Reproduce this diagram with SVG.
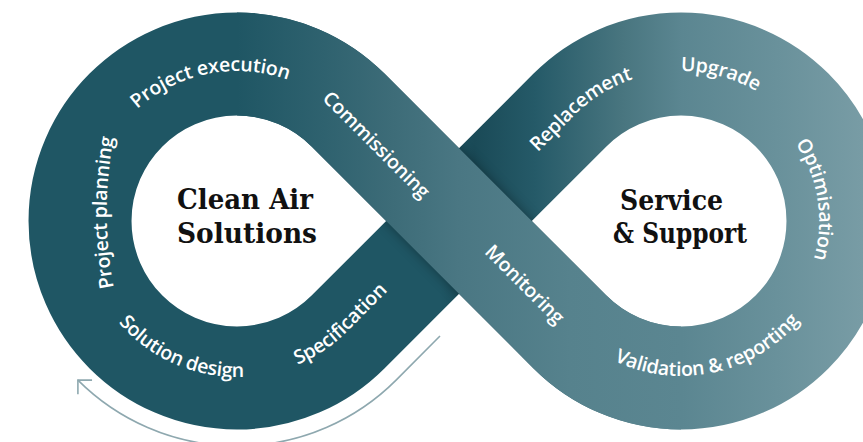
<svg xmlns="http://www.w3.org/2000/svg" width="863" height="442" viewBox="0 0 863 442">
<defs>
<style>
.lbl{font-family:"Open Sans","Noto Sans","DejaVu Sans",sans-serif;font-size:19.5px;font-weight:600;fill:#ffffff;letter-spacing:-0.2px;}
.ttl{font-family:"DejaVu Serif","Liberation Serif",serif;font-size:27px;font-weight:bold;fill:#111111;}
.arrow{fill:none;stroke:#8ea8af;stroke-width:1.6;}
</style>
<linearGradient id="gBase" gradientUnits="userSpaceOnUse" x1="0" y1="0" x2="863" y2="0">
<stop offset="0" stop-color="#1f5664"/>
<stop offset="0.51" stop-color="#1f5664"/>
<stop offset="0.55" stop-color="#1a4a57"/>
<stop offset="0.62" stop-color="#255a68"/>
<stop offset="0.72" stop-color="#48757f"/>
<stop offset="0.79" stop-color="#5b8691"/>
<stop offset="0.9" stop-color="#69919b"/>
<stop offset="1" stop-color="#789ca5"/>
</linearGradient>
<linearGradient id="gOver" gradientUnits="userSpaceOnUse" x1="237" y1="0" x2="681" y2="0">
<stop offset="0" stop-color="#1f5664"/>
<stop offset="0.2" stop-color="#2f626f"/>
<stop offset="0.35" stop-color="#3d6c78"/>
<stop offset="0.5" stop-color="#4a7783"/>
<stop offset="0.75" stop-color="#56828d"/>
<stop offset="1" stop-color="#5b8691"/>
</linearGradient>
<filter id="blur" filterUnits="userSpaceOnUse" x="0" y="0" width="863" height="442"><feGaussianBlur stdDeviation="6"/></filter>
<path id="loop" d="M348,110 L570,332 A157,157 0 1 0 570,110 L348,332 A157,157 0 1 1 348,110 Z"/>
<mask id="bandMask" maskUnits="userSpaceOnUse" x="0" y="0" width="863" height="442">
<use href="#loop" fill="none" stroke="#ffffff" stroke-width="103"/>
</mask>
<marker id="chev" markerUnits="userSpaceOnUse" markerWidth="30" markerHeight="30" viewBox="-15 -15 30 30" refX="0" refY="0" orient="auto" overflow="visible">
<path d="M-10,-10 L0,0 L-10,10" fill="none" stroke="#8ea8af" stroke-width="1.6"/>
</marker>
<path id="p1" d="M116.5,300 A400,400 0 0 1 116.5,124"/>
<path id="p2" d="M96.05,169.7 A150,150 0 0 1 351.9,124.58"/>
<path id="p3" d="M81.6,234.6 A156,156 0 0 0 347.3,331.3 L447.3,231.3"/>
<path id="p4" d="M272.2,49.8 L532.2,309.8"/>
<path id="p5" d="M276.5,45.5 L616.5,385.5"/>
<path id="p6" d="M468.9,221 L574.93,114.93 A150,150 0 0 1 795.9,124.6"/>
<path id="p7" d="M731.4,92.3 A138,138 0 0 1 769.7,326.7"/>
<path id="p8" d="M546.8,298.5 A155,155 0 0 0 826.65,274"/>
</defs>
<rect width="863" height="442" fill="#ffffff"/>
<g id="band">
<use href="#loop" fill="none" stroke="url(#gBase)" stroke-width="103"/>
<g mask="url(#bandMask)">
<path d="M348,110 L570,332" fill="none" stroke="#000000" stroke-opacity="0.35" stroke-width="103" filter="url(#blur)"/>
</g>
<path d="M237,64 A157,157 0 0 1 348,110 L570,332 A157,157 0 0 0 681,378" fill="none" stroke="url(#gOver)" stroke-width="103"/>
</g>
<g id="connectors">
<path class="arrow" d="M440,336 L396.1,380.1 A225,225 0 0 1 77.9,380.1" marker-end="url(#chev)"/>
</g>
<g id="clean-air-solutions">
<text class="ttl" x="245" y="209" text-anchor="middle" textLength="136" lengthAdjust="spacingAndGlyphs">Clean Air</text>
<text class="ttl" x="247" y="243" text-anchor="middle" textLength="140" lengthAdjust="spacingAndGlyphs">Solutions</text>
</g>
<g id="service-support">
<text class="ttl" x="671.5" y="210" text-anchor="middle" textLength="103" lengthAdjust="spacingAndGlyphs">Service</text>
<text class="ttl" x="680" y="243" text-anchor="middle" textLength="134" lengthAdjust="spacingAndGlyphs">&amp; Support</text>
</g>
<g id="project-planning"><text class="lbl"><textPath href="#p1" startOffset="88" text-anchor="middle">Project planning</textPath></text></g>
<g id="project-execution"><text class="lbl"><textPath href="#p2" startOffset="154.5" text-anchor="middle">Project execution</textPath></text></g>
<g id="commissioning"><text class="lbl"><textPath href="#p4" startOffset="140.7" text-anchor="middle">Commissioning</textPath></text></g>
<g id="monitoring"><text class="lbl"><textPath href="#p5" startOffset="344.4" text-anchor="middle">Monitoring</textPath></text></g>
<g id="solution-design"><text class="lbl"><textPath href="#p3" startOffset="167.4" text-anchor="middle">Solution design</textPath></text></g>
<g id="specification"><text class="lbl"><textPath href="#p3" startOffset="352" text-anchor="middle">Specification</textPath></text></g>
<g id="replacement"><text class="lbl"><textPath href="#p6" startOffset="158" text-anchor="middle">Replacement</textPath></text></g>
<g id="upgrade"><text class="lbl"><textPath href="#p6" startOffset="307" text-anchor="middle">Upgrade</textPath></text></g>
<g id="optimisation"><text class="lbl"><textPath href="#p7" startOffset="143.3" text-anchor="middle">Optimisation</textPath></text></g>
<g id="validation-reporting"><text class="lbl"><textPath href="#p8" startOffset="194.8" text-anchor="middle">Validation &amp; reporting</textPath></text></g>
</svg>
